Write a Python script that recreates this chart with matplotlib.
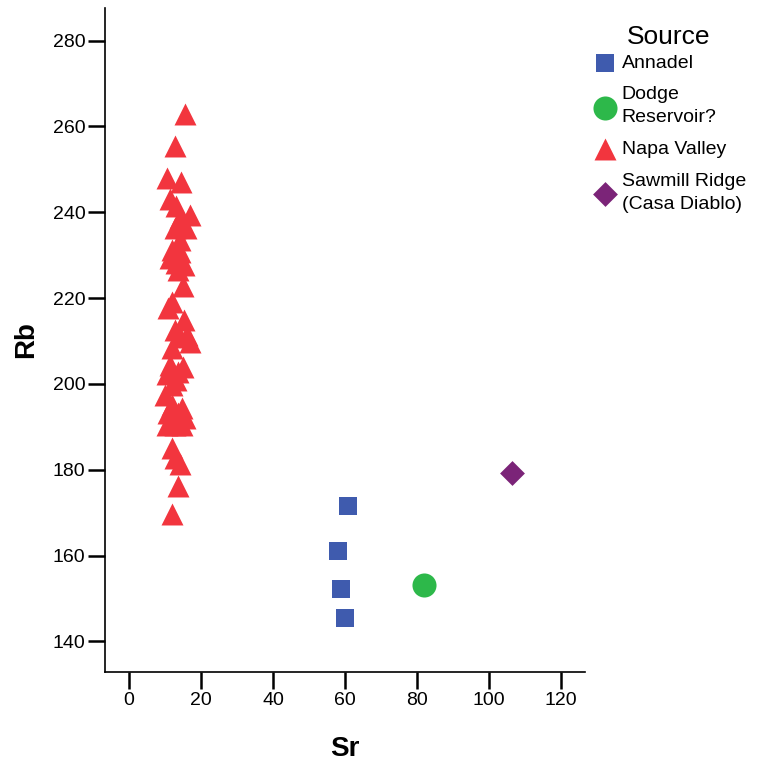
import numpy as np
import matplotlib.pyplot as plt

plt.rcParams['font.family'] = ['Liberation Sans', 'DejaVu Sans']

# Sr / Rb values
annadel_sr = [60.8, 58.1, 58.9, 60.0]
annadel_rb = [171.5, 161.0, 152.1, 145.4]

dodge_sr = [81.9]
dodge_rb = [153.1]

sawmill_sr = [106.4]
sawmill_rb = [179.2]

napa_sr = [15.6, 12.8, 10.5, 14.4, 11.4, 16.9, 14.2, 12.8, 15.8, 11.9,
           14.2, 11.4, 13.0, 15.3, 13.6, 15.0, 12.0, 10.8, 15.3, 12.8,
           16.1, 14.2, 16.9, 12.0, 11.4, 15.0, 13.6, 10.5, 12.0, 13.0,
           10.0, 12.0, 14.7, 10.8, 13.6, 15.6, 10.5, 12.8, 14.7, 11.9,
           12.8, 14.2, 13.6, 12.0, 13.0, 14.0]
napa_rb = [263.0, 255.5, 248.0, 247.0, 243.0, 239.4, 238.7, 236.4, 236.4, 231.2,
           230.8, 229.4, 228.2, 227.7, 226.5, 222.8, 219.0, 217.7, 215.0, 212.5,
           211.4, 211.0, 209.8, 208.4, 204.4, 204.0, 202.8, 202.3, 199.7, 201.0,
           197.4, 195.0, 194.4, 193.2, 193.2, 192.0, 190.4, 190.4, 190.4, 185.0,
           182.7, 181.3, 176.2, 169.6, 241.5, 233.5]

fig = plt.figure(figsize=(7.61, 7.63), dpi=100)
ax = fig.add_axes([0.138, 0.119, 0.631, 0.871])

ax.scatter(annadel_sr, annadel_rb, marker='s', s=150, color='#3F5BAE',
           linewidths=0, label='Annadel', zorder=3)
ax.scatter(dodge_sr, dodge_rb, marker='o', s=300, color='#2DB84A',
           linewidths=0, label='Dodge\nReservoir?', zorder=3)
ax.scatter(napa_sr, napa_rb, marker='^', s=250, color='#F2353E',
           linewidths=0, label='Napa Valley', zorder=3)
ax.scatter(sawmill_sr, sawmill_rb, marker='D', s=160, color='#7B2478',
           linewidths=0, label='Sawmill Ridge\n(Casa Diablo)', zorder=3)

ax.set_xlim(-6.7, 126.7)
ax.set_ylim(132.8, 287.7)
ax.set_xticks(np.arange(0, 121, 20))
ax.set_yticks(np.arange(140, 281, 20))

for side in ['top', 'right']:
    ax.spines[side].set_visible(False)
for side in ['left', 'bottom']:
    ax.spines[side].set_linewidth(1.2)
ax.tick_params(axis='both', length=12, width=1.8, labelsize=14, pad=2)

ax.set_xlabel('Sr', fontsize=20, fontweight='bold', labelpad=20)
ax.set_ylabel('Rb', fontsize=20, fontweight='bold', labelpad=10)

leg = ax.legend(title='Source', loc='upper left', bbox_to_anchor=(0.767, 0.978),
                bbox_transform=fig.transFigure, frameon=False, fontsize=14,
                title_fontsize=19, handletextpad=0.15, labelspacing=0.75,
                borderaxespad=0, handlelength=1.4, scatterpoints=1)
leg._legend_box.align = 'center'
leg._legend_box.sep = 4
for t in leg.get_texts():
    t.set_linespacing(1.45)

plt.savefig('out.png', dpi=100)
